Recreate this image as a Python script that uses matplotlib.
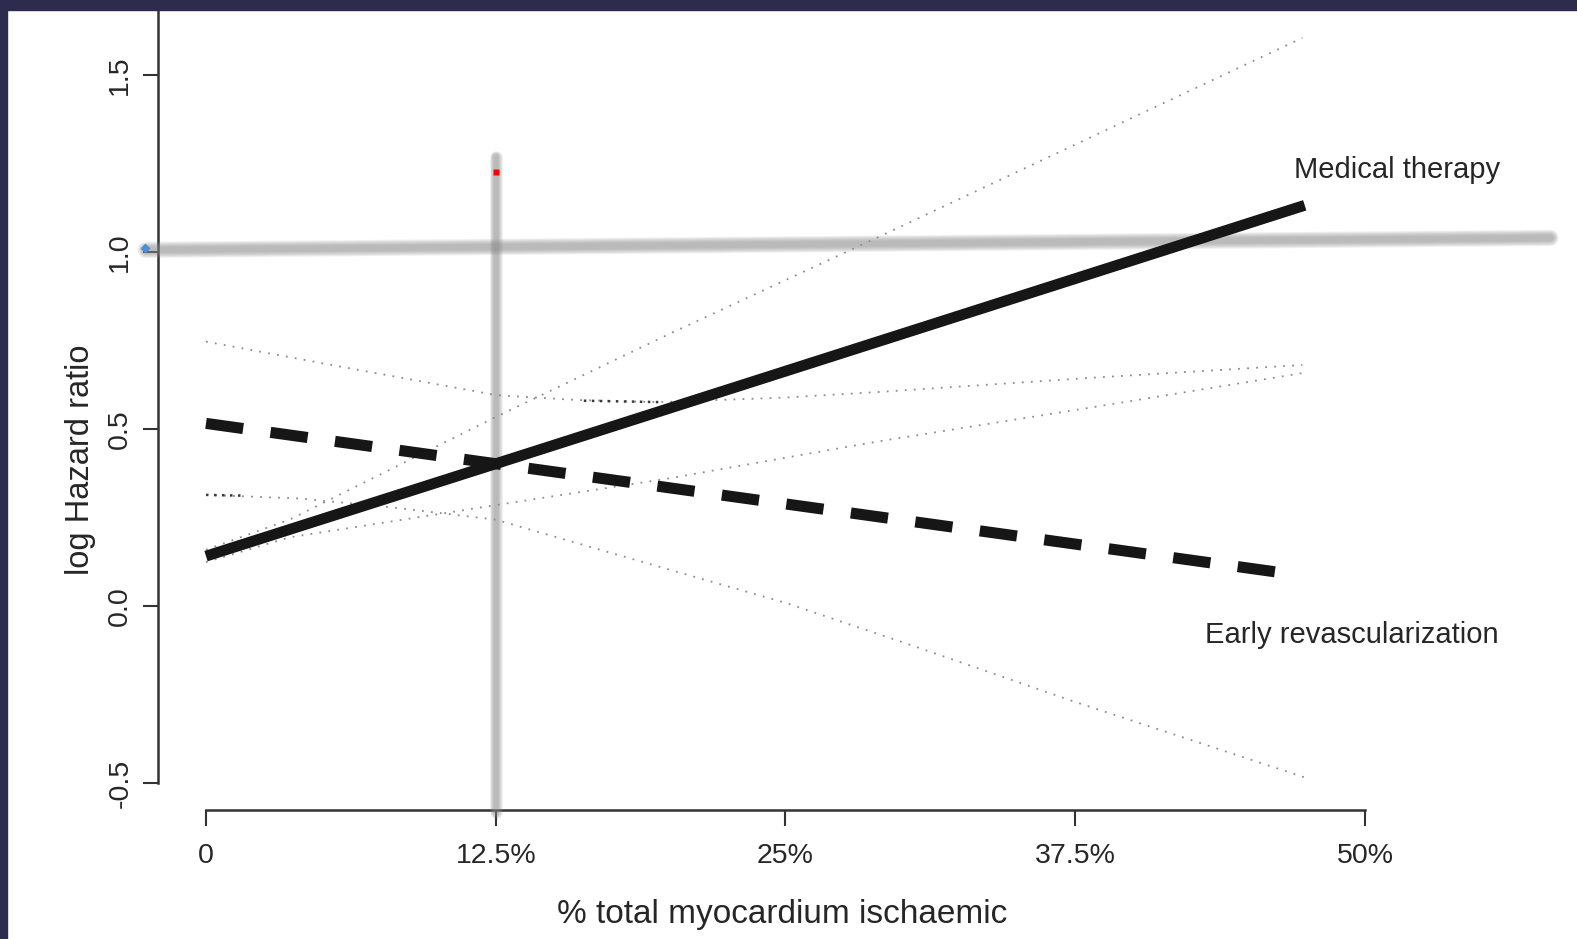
import matplotlib
matplotlib.use("Agg")
import matplotlib.pyplot as plt
from matplotlib.patches import Rectangle

plt.rcParams["font.family"] = ["Liberation Sans", "DejaVu Sans"]

# ── Data ──────────────────────────────────────────────────────────────────────

# fitted log hazard ratio vs % ischaemic myocardium
med_x = [0, 12.5, 47.4]
med_y = [0.142, 0.403, 1.133]
early_x = [0, 12.5, 46.2]
early_y = [0.517, 0.403, 0.097]

# confidence limits (dotted)
med_ci_x = [0, 3.6, 12.5, 20, 28.9, 38, 47.3]
med_hi = [0.16, 0.245, 0.535, 0.77, 1.04, 1.32, 1.606]
med_lo = [0.125, 0.195, 0.286, 0.362, 0.465, 0.56, 0.659]

early_hi_x = [0, 6, 12.5, 16, 19.6, 25, 29.1, 38, 47.3]
early_hi = [0.748, 0.675, 0.597, 0.583, 0.577, 0.59, 0.606, 0.645, 0.682]
early_lo_x = [0, 4, 8, 12.5, 17, 21, 25, 30, 37.5, 47.4]
early_lo = [0.315, 0.305, 0.28, 0.245, 0.16, 0.085, 0.01, -0.1, -0.27, -0.483]

# short darker stretches where the limits are drawn twice
dark_lo_x = [0, 1.5]
dark_lo_y = [0.315, 0.313]
dark_hi_x = [16.3, 19.6]
dark_hi_y = [0.581, 0.577]

# reference lines: crossover at 12.5 %, HR line near 1.0
cross_x = 12.5
cross_y = [-0.58, 1.27]
ref_x = [-2.6, 58.0]
ref_y = [1.007, 1.041]

x_ticks = [0, 12.5, 25, 37.5, 50]
x_labels = ["0", "12.5%", "25%", "37.5%", "50%"]
y_ticks = [-0.5, 0.0, 0.5, 1.0, 1.5]
y_labels = ["-0.5", "0.0", "0.5", "1.0", "1.5"]

# ── Layout (pixels) ───────────────────────────────────────────────────────────

W, H = 1577, 939
X0_PX, PX_PER_PCT = 206, 23.18
Y0_PX, PX_PER_UNIT = 606.4, 354

INK = "#161616"
AXIS = "#333333"
TXT = "#262626"
DOT = "#8c8c8c"
FRAME = "#2e2c4e"

fig = plt.figure(figsize=(W / 100, H / 100), dpi=100)
fig.patch.set_facecolor("white")
ax = fig.add_axes([0, 0, 1, 1])
ax.set_xlim(-X0_PX / PX_PER_PCT, (W - X0_PX) / PX_PER_PCT)
ax.set_ylim((Y0_PX - H) / PX_PER_UNIT, Y0_PX / PX_PER_UNIT)


def soft_line(xs, ys, width_px, z):
    # blurred grey line built from stacked translucent strokes
    for k in range(6):
        lw = width_px * (1.8 - 0.22 * k) * 0.72
        ax.plot(xs, ys, color="#8a8a8a", lw=lw, alpha=0.13,
                solid_capstyle="round", zorder=z)


dotted = dict(color=DOT, lw=1.3, linestyle=(0, (1, 4)), zorder=2)
ax.plot(med_ci_x, med_hi, **dotted)
ax.plot(med_ci_x, med_lo, **dotted)
ax.plot(early_hi_x, early_hi, **dotted)
ax.plot(early_lo_x, early_lo, **dotted)
dark = dict(color="#3a3a3a", lw=1.8, linestyle=(0, (1, 2.2)), zorder=2)
ax.plot(dark_lo_x, dark_lo_y, **dark)
ax.plot(dark_hi_x, dark_hi_y, **dark)

soft_line(ref_x, ref_y, 9, 3)
soft_line([cross_x, cross_x], cross_y, 7, 3)

ax.plot(med_x, med_y, color=INK, lw=7.8, solid_capstyle="butt", zorder=4)
ax.plot(early_x, early_y, color=INK, lw=8, linestyle=(0, (3.375, 2.484)),
        dash_capstyle="butt", zorder=4)

ax.plot([cross_x], [1.227], marker="s", ms=5, color="red", mec="none", zorder=5)
ax.plot([-2.63], [1.012], marker="D", ms=5, color="#4a8fd4", mec="none", zorder=5)

ax.text(51.40, 1.2102, "Medical therapy", fontsize=21, color=TXT,
        ha="center", va="baseline")
ax.text(49.42, -0.1034, "Early revascularization", fontsize=21, color=TXT,
        ha="center", va="baseline")

# detached R-style axes
for side in ("top", "right"):
    ax.spines[side].set_visible(False)
ax.spines["left"].set_position(("data", (158 - X0_PX) / PX_PER_PCT))
ax.spines["left"].set_bounds(-0.5, 1.8)
ax.spines["bottom"].set_position(("data", (Y0_PX - 810) / PX_PER_UNIT))
ax.spines["bottom"].set_bounds(0, 50)
for s in ("left", "bottom"):
    ax.spines[s].set_linewidth(1.8)
    ax.spines[s].set_color(AXIS)

ax.set_xticks(x_ticks, x_labels)
ax.set_yticks(y_ticks, y_labels)
ax.tick_params(axis="x", length=11.5, width=1.5, color=AXIS, pad=12,
               labelsize=20.5, labelcolor=TXT)
ax.tick_params(axis="y", length=10.8, width=1.5, color=AXIS, pad=7,
               labelsize=20.5, labelcolor=TXT, labelrotation=90)
for lab in ax.get_yticklabels():
    lab.set_verticalalignment("center")

ax.set_xlabel("% total myocardium ischaemic", fontsize=24, color=TXT)
ax.xaxis.set_label_coords(782 / W, 1 - 923 / H)
ax.xaxis.label.set_verticalalignment("baseline")
ax.set_ylabel("log Hazard ratio", fontsize=23.5, color=TXT)
ax.yaxis.set_label_coords(80 / W, 1 - 460 / H)
ax.yaxis.label.set_verticalalignment("center")

# dark slide frame along top and left edges
fig.add_artist(Rectangle((0, 1 - 10 / H), 1, 10 / H, transform=fig.transFigure,
                         color=FRAME, zorder=10))
fig.add_artist(Rectangle((0, 0), 7 / W, 1, transform=fig.transFigure,
                         color=FRAME, zorder=10))

fig.savefig("out.png", dpi=100, facecolor="white")
